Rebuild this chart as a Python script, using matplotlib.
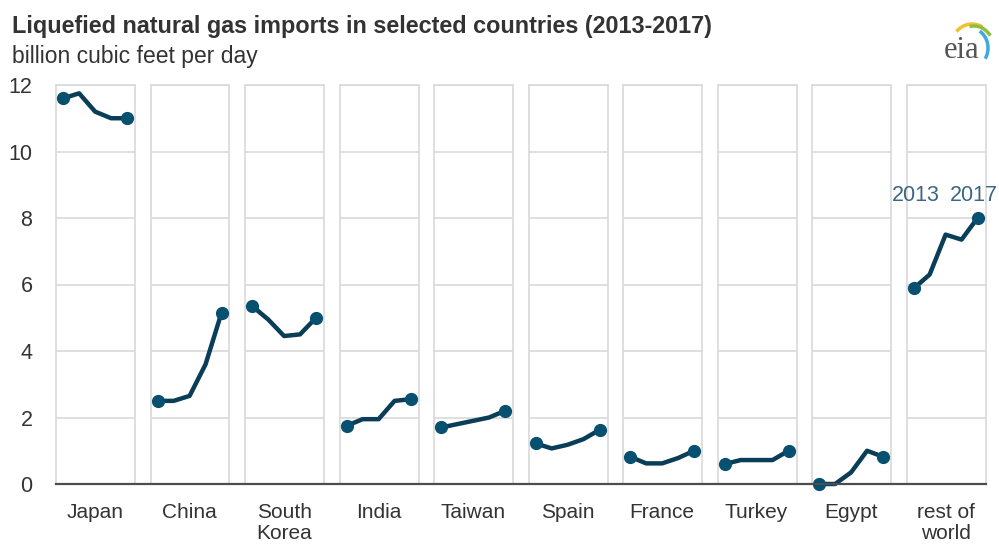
import numpy as np
import matplotlib.pyplot as plt
from matplotlib.patches import Arc

plt.rcParams['font.family'] = ['Liberation Sans', 'DejaVu Sans']

# data (billion cubic feet per day), 2013-2017
years = [2013, 2014, 2015, 2016, 2017]
countries = ['Japan', 'China', 'South\nKorea', 'India', 'Taiwan', 'Spain',
             'France', 'Turkey', 'Egypt', 'rest of\nworld']
japan = [11.6, 11.75, 11.2, 11.0, 11.0]
china = [2.5, 2.5, 2.65, 3.6, 5.15]
south_korea = [5.35, 4.95, 4.45, 4.5, 5.0]
india = [1.75, 1.95, 1.95, 2.5, 2.55]
taiwan = [1.7, 1.8, 1.9, 2.0, 2.2]
spain = [1.22, 1.07, 1.18, 1.35, 1.63]
france = [0.82, 0.62, 0.62, 0.78, 1.0]
turkey = [0.6, 0.72, 0.72, 0.72, 1.0]
egypt = [0.0, 0.0, 0.35, 1.0, 0.82]
rest_of_world = [5.88, 6.3, 7.5, 7.35, 8.0]
series = [japan, china, south_korea, india, taiwan, spain,
          france, turkey, egypt, rest_of_world]
yticks = [0, 2, 4, 6, 8, 10, 12]

line_col = '#0a3d57'
dot_col = '#07506f'
grid_col = '#d9d9d9'
txt_col = '#333333'

W, H = 999, 544
fig = plt.figure(figsize=(W / 100, H / 100), dpi=100)

left0, step, pw = 56, 94.5, 79
top, bottom = 85, 484

for i, (name, vals) in enumerate(zip(countries, series)):
    x0 = left0 + i * step
    ax = fig.add_axes([x0 / W, 1 - bottom / H, pw / W, (bottom - top) / H])
    ax.set_xlim(-0.45, 4.5)
    ax.set_ylim(0, 12)
    xs = np.arange(len(vals))
    ax.plot(xs, vals, color=line_col, lw=3.2, solid_joinstyle='round',
            solid_capstyle='round', zorder=3, clip_on=False)
    ax.plot([xs[0], xs[-1]], [vals[0], vals[-1]], 'o', color=dot_col,
            ms=8.5, zorder=4, clip_on=False)
    ax.set_yticks(yticks)
    ax.grid(axis='y', color=grid_col, lw=1.2)
    ax.set_axisbelow(True)
    ax.set_xticks([2])
    ax.set_xticklabels([name], fontsize=15, color=txt_col,
                       linespacing=1.08, va='top')
    ax.tick_params(axis='x', length=0, pad=14)
    for s in ['left', 'right', 'top']:
        ax.spines[s].set_color(grid_col)
        ax.spines[s].set_linewidth(1.2)
    ax.spines['bottom'].set_visible(False)
    if i == 0:
        ax.tick_params(axis='y', length=0, labelsize=15.5, pad=17,
                       labelcolor=txt_col)
    else:
        ax.tick_params(axis='y', length=0, labelleft=False)
    if i == len(countries) - 1:
        # year labels above the first and last points
        ax.text(xs[0] + 0.15, 8.35, str(years[0]), ha='center', va='bottom',
                fontsize=15.5, color='#3d6680')
        ax.text(xs[-1] - 0.25, 8.35, str(years[-1]), ha='center', va='bottom',
                fontsize=15.5, color='#3d6680')

# baseline running across all panels
fig.add_artist(plt.Line2D([left0 / W, (left0 + 9 * step + pw) / W],
                          [1 - bottom / H, 1 - bottom / H],
                          color='#4d4d4d', lw=1.6))

fig.text(12 / W, 1 - 26 / H, 'Liquefied natural gas imports in selected countries (2013-2017)',
         fontsize=16.8, fontweight='bold', color=txt_col, va='center')
fig.text(12 / W, 1 - 56 / H, 'billion cubic feet per day',
         fontsize=16.5, color=txt_col, va='center')

# eia logo
fig.text(962 / W, 1 - 50 / H, 'eia', fontsize=22, family='Liberation Serif',
         color='#555555', ha='center', va='center')
lax = fig.add_axes([936 / W, 1 - 72 / H, 56 / W, 56 / H])
lax.set_xlim(0, 56)
lax.set_ylim(0, 56)
lax.axis('off')
lax.add_patch(Arc((36, 22), 44, 52, theta1=65, theta2=130, color='#f2c12e', lw=2.5))
lax.add_patch(Arc((38, 20), 42, 52, theta1=45, theta2=100, color='#8cbf3f', lw=2.5))
lax.add_patch(Arc((34, 24), 36, 40, theta1=-35, theta2=60, color='#3fa9dc', lw=2.5))

fig.savefig('out.png', dpi=100)
